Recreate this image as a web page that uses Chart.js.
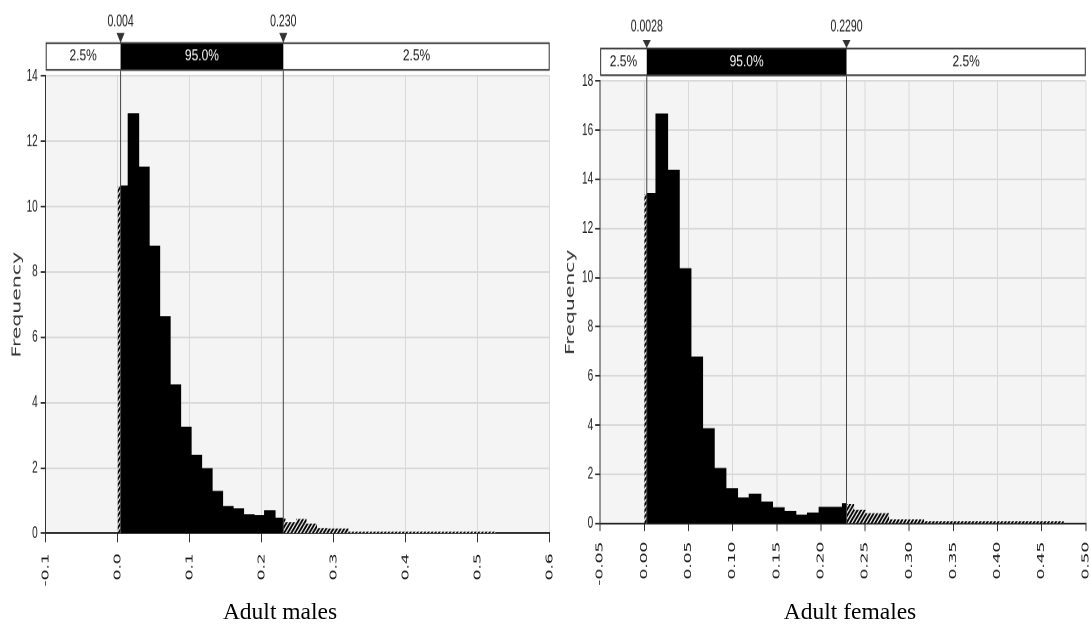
<!DOCTYPE html>
<html>
<head>
<meta charset="utf-8">
<script src="https://cdn.jsdelivr.net/npm/chart.js@4.4.1/dist/chart.umd.min.js"></script>
<style>
html, body { margin: 0; padding: 0; background: #fff; width: 1091px; height: 625px; overflow: hidden; }
canvas { position: absolute; top: 0; transform-origin: 0 0; }
.cap { position: absolute; top: 600px; font: 23.5px 'Liberation Serif', 'Times New Roman', serif; line-height: 1; color: #000; white-space: nowrap; transform: translateX(-50%); }
</style>
</head>
<body>
<canvas id="males"></canvas>
<canvas id="females"></canvas>
<div class="cap" style="left:280px">Adult males</div>
<div class="cap" style="left:850px">Adult females</div>
<script>
// ---- data ----
const maleBinWidth = 0.01457;
const maleFreq = [10.62, 12.83, 11.2, 8.78, 6.62, 4.53, 3.24, 2.38, 1.97, 1.27,
  0.81, 0.74, 0.56, 0.53, 0.68, 0.45, 0.34, 0.44, 0.30, 0.16,
  0.15, 0.15, 0.05, 0.05, 0.05, 0.05, 0.05, 0.05, 0.05, 0.05,
  0.05, 0.05, 0.05, 0.05, 0.05, 0.05];
const maleCuts = [0.004, 0.230];
const maleCutLabels = ['0.004', '0.230'];
const maleXTicks = [-0.1, 0.0, 0.1, 0.2, 0.3, 0.4, 0.5, 0.6];
const maleXLabels = ['-0.1', '0.0', '0.1', '0.2', '0.3', '0.4', '0.5', '0.6'];
const maleYTicks = [0, 2, 4, 6, 8, 10, 12, 14];

const femaleBinWidth = 0.0132;
const femaleFreq = [13.41, 16.64, 14.35, 10.35, 6.75, 3.84, 2.22, 1.40, 1.02, 1.17,
  0.85, 0.62, 0.47, 0.32, 0.40, 0.64, 0.64, 0.78, 0.55, 0.41,
  0.41, 0.16, 0.16, 0.16, 0.08, 0.08, 0.08, 0.08, 0.08, 0.08,
  0.08, 0.08, 0.08, 0.08, 0.08, 0.08];
const femaleCuts = [0.0028, 0.2290];
const femaleCutLabels = ['0.0028', '0.2290'];
const femaleXTicks = [-0.05, 0.0, 0.05, 0.10, 0.15, 0.20, 0.25, 0.30, 0.35, 0.40, 0.45, 0.50];
const femaleXLabels = ['-0.05', '0.00', '0.05', '0.10', '0.15', '0.20', '0.25', '0.30', '0.35', '0.40', '0.45', '0.50'];
const femaleYTicks = [0, 2, 4, 6, 8, 10, 12, 14, 16, 18];

const bandLabels = ['2.5%', '95.0%', '2.5%'];

// the source picture is stretched vertically, so draw flat and stretch the canvas
const STRETCH = 1.7;
const CANVAS_H = 352;

function makeHatch() {
  const c = document.createElement('canvas');
  c.width = 8; c.height = 8;
  const g = c.getContext('2d');
  g.fillStyle = '#fff';
  g.fillRect(0, 0, 8, 8);
  g.strokeStyle = '#000';
  g.lineWidth = 3.4;
  g.beginPath();
  g.moveTo(-2, 10); g.lineTo(10, -2);
  g.moveTo(-6, 6); g.lineTo(6, -6);
  g.moveTo(2, 14); g.lineTo(14, 2);
  g.stroke();
  const p = g.createPattern(c, 'repeat');
  p.setTransform(new DOMMatrix().scale(0.45));
  return p;
}

// histogram outline between two x values, one point per bin edge
function stepPoints(freq, w, from, to) {
  const pts = [];
  const first = Math.floor(from / w + 1e-9);
  const last = Math.min(freq.length - 1, Math.ceil(to / w - 1e-9) - 1);
  for (let i = first; i <= last; i++) {
    pts.push({ x: i === first ? from : i * w, y: freq[i] });
  }
  pts.push({ x: to, y: freq[last] });
  return pts;
}

function bandPlugin(g) {
  return {
    id: 'band',
    beforeDraw(chart) {
      const { ctx, chartArea: a } = chart;
      ctx.save();
      ctx.fillStyle = '#f4f4f4';
      ctx.fillRect(a.left, a.top, a.right - a.left, a.bottom - a.top);
      ctx.restore();
    },
    afterDatasetsDraw(chart) {
      const { ctx, chartArea: a } = chart;
      const xs = chart.scales.x;
      ctx.save();
      ctx.strokeStyle = '#444';
      ctx.lineWidth = 1;
      g.cuts.forEach(c => {
        const x = xs.getPixelForValue(c);
        ctx.beginPath();
        ctx.moveTo(x, g.bannerBottom / STRETCH);
        ctx.lineTo(x, a.bottom);
        ctx.stroke();
      });
      ctx.restore();
    },
    afterDraw(chart) {
      const { ctx, chartArea: a } = chart;
      const xs = chart.scales.x;
      const top = g.bannerTop / STRETCH;
      const h = (g.bannerBottom - g.bannerTop) / STRETCH;
      const xl = xs.getPixelForValue(g.cuts[0]);
      const xh = xs.getPixelForValue(g.cuts[1]);
      ctx.save();
      ctx.fillStyle = '#fff';
      ctx.fillRect(a.left, top, a.right - a.left, h);
      ctx.fillStyle = '#000';
      ctx.fillRect(xl, top, xh - xl, h);
      ctx.strokeStyle = '#333';
      ctx.lineWidth = 1;
      ctx.strokeRect(a.left + 0.5, top + 0.5, a.right - a.left - 1, h - 1);

      const text = (s, x, y, color, size, sy) => {
        ctx.save();
        ctx.translate(x, y);
        ctx.scale(1, sy);
        ctx.font = size + "px 'Liberation Sans', Arial, sans-serif";
        ctx.fillStyle = color;
        ctx.textAlign = 'center';
        ctx.textBaseline = 'middle';
        ctx.fillText(s, 0, 0);
        ctx.restore();
      };
      const midY = top + h / 2;
      text(bandLabels[0], (a.left + xl) / 2, midY, '#1a1a1a', 12, 0.75);
      text(bandLabels[1], (xl + xh) / 2, midY, '#fff', 12, 0.75);
      text(bandLabels[2], (xh + a.right) / 2, midY, '#1a1a1a', 12, 0.75);

      ctx.fillStyle = '#333';
      [xl, xh].forEach((x, i) => {
        ctx.beginPath();
        ctx.moveTo(x - 4, g.triTop / STRETCH);
        ctx.lineTo(x + 4, g.triTop / STRETCH);
        ctx.lineTo(x, g.triBottom / STRETCH);
        ctx.closePath();
        ctx.fill();
        text(g.cutLabels[i], x, g.labelY / STRETCH, '#1a1a1a', 10.5, 1);
      });
      ctx.restore();
    }
  };
}

function makeChart(id, g) {
  const canvas = document.getElementById(id);
  canvas.width = g.width;
  canvas.height = CANVAS_H;
  canvas.style.left = g.left + 'px';
  canvas.style.width = g.width + 'px';
  canvas.style.height = CANVAS_H + 'px';
  canvas.style.transform = 'scaleY(' + STRETCH + ')';

  const hatch = makeHatch();
  const w = g.binWidth;
  const end = g.freq.length * w;
  // 'before' in Chart.js keeps the previous point's value across the step
  const common = { stepped: 'before', fill: 'origin', pointRadius: 0, pointHoverRadius: 0 };

  return new Chart(canvas, {
    type: 'line',
    data: {
      datasets: [
        Object.assign({ data: stepPoints(g.freq, w, g.cuts[0], g.cuts[1]), backgroundColor: '#000', borderColor: '#000', borderWidth: 1 }, common),
        Object.assign({ data: stepPoints(g.freq, w, 0, g.cuts[0]), backgroundColor: hatch, borderColor: 'rgba(0,0,0,0)', borderWidth: 1 }, common),
        Object.assign({ data: stepPoints(g.freq, w, g.cuts[1], end), backgroundColor: hatch, borderColor: 'rgba(0,0,0,0)', borderWidth: 1 }, common)
      ]
    },
    options: {
      responsive: false,
      devicePixelRatio: 2,
      animation: false,
      layout: { padding: { left: 0, right: g.width - g.plotRight, top: g.plotTop / STRETCH, bottom: 0 } },
      plugins: { legend: { display: false }, tooltip: { enabled: false } },
      events: [],
      scales: {
        x: {
          type: 'linear',
          min: g.xTicks[0],
          max: g.xTicks[g.xTicks.length - 1],
          afterBuildTicks: s => { s.ticks = g.xTicks.map(v => ({ value: v })); },
          afterFit: s => { s.height = CANVAS_H - g.plotBottom / STRETCH; s.paddingLeft = 0; s.paddingRight = 0; },
          grid: { color: '#d9d9d9', lineWidth: 1, drawTicks: true, tickLength: g.xTickLen, tickColor: '#333' },
          border: { color: '#222', width: 1 },
          ticks: {
            minRotation: 90, maxRotation: 90, autoSkip: false, padding: g.xPad,
            font: { family: "'DejaVu Sans', Verdana, sans-serif", size: 10 },
            color: '#1a1a1a',
            callback: (v, i) => g.xLabels[i]
          }
        },
        y: {
          min: 0,
          max: g.yTicks[g.yTicks.length - 1],
          afterBuildTicks: s => { s.ticks = g.yTicks.map(v => ({ value: v })); },
          afterFit: s => { s.width = g.plotLeft; s.paddingTop = 0; s.paddingBottom = 0; },
          grid: { color: '#d9d9d9', lineWidth: 1, drawTicks: true, tickLength: 5, tickColor: '#333' },
          border: { color: '#333', width: 1 },
          ticks: {
            autoSkip: false, padding: g.yPad,
            font: { family: "'Liberation Sans', Arial, sans-serif", size: 10 },
            color: '#222',
            callback: v => String(v)
          },
          title: {
            display: true, text: 'Frequency', color: '#333',
            font: { family: "'DejaVu Sans', Verdana, sans-serif", size: 12 },
            padding: { top: g.titlePad, bottom: 0 }
          }
        }
      }
    },
    plugins: [bandPlugin(g)]
  });
}

makeChart('males', {
  left: 0, width: 560,
  plotLeft: 45.7, plotRight: 549.7, plotTop: 76, plotBottom: 533.3,
  bannerTop: 42.3, bannerBottom: 70.7, triTop: 33, triBottom: 43, labelY: 21.5,
  xTickLen: 5.3, xPad: 6.5, yPad: 3, titlePad: 10,
  binWidth: maleBinWidth, freq: maleFreq, cuts: maleCuts, cutLabels: maleCutLabels,
  xTicks: maleXTicks, xLabels: maleXLabels, yTicks: maleYTicks
});

makeChart('females', {
  left: 560, width: 531,
  plotLeft: 40.15, plotRight: 525.8, plotTop: 81, plotBottom: 523.3,
  bannerTop: 47.7, bannerBottom: 76, triTop: 40, triBottom: 48, labelY: 26.7,
  xTickLen: 4.5, xPad: 6.3, yPad: 2, titlePad: 3.8,
  binWidth: femaleBinWidth, freq: femaleFreq, cuts: femaleCuts, cutLabels: femaleCutLabels,
  xTicks: femaleXTicks, xLabels: femaleXLabels, yTicks: femaleYTicks
});
</script>
</body>
</html>
